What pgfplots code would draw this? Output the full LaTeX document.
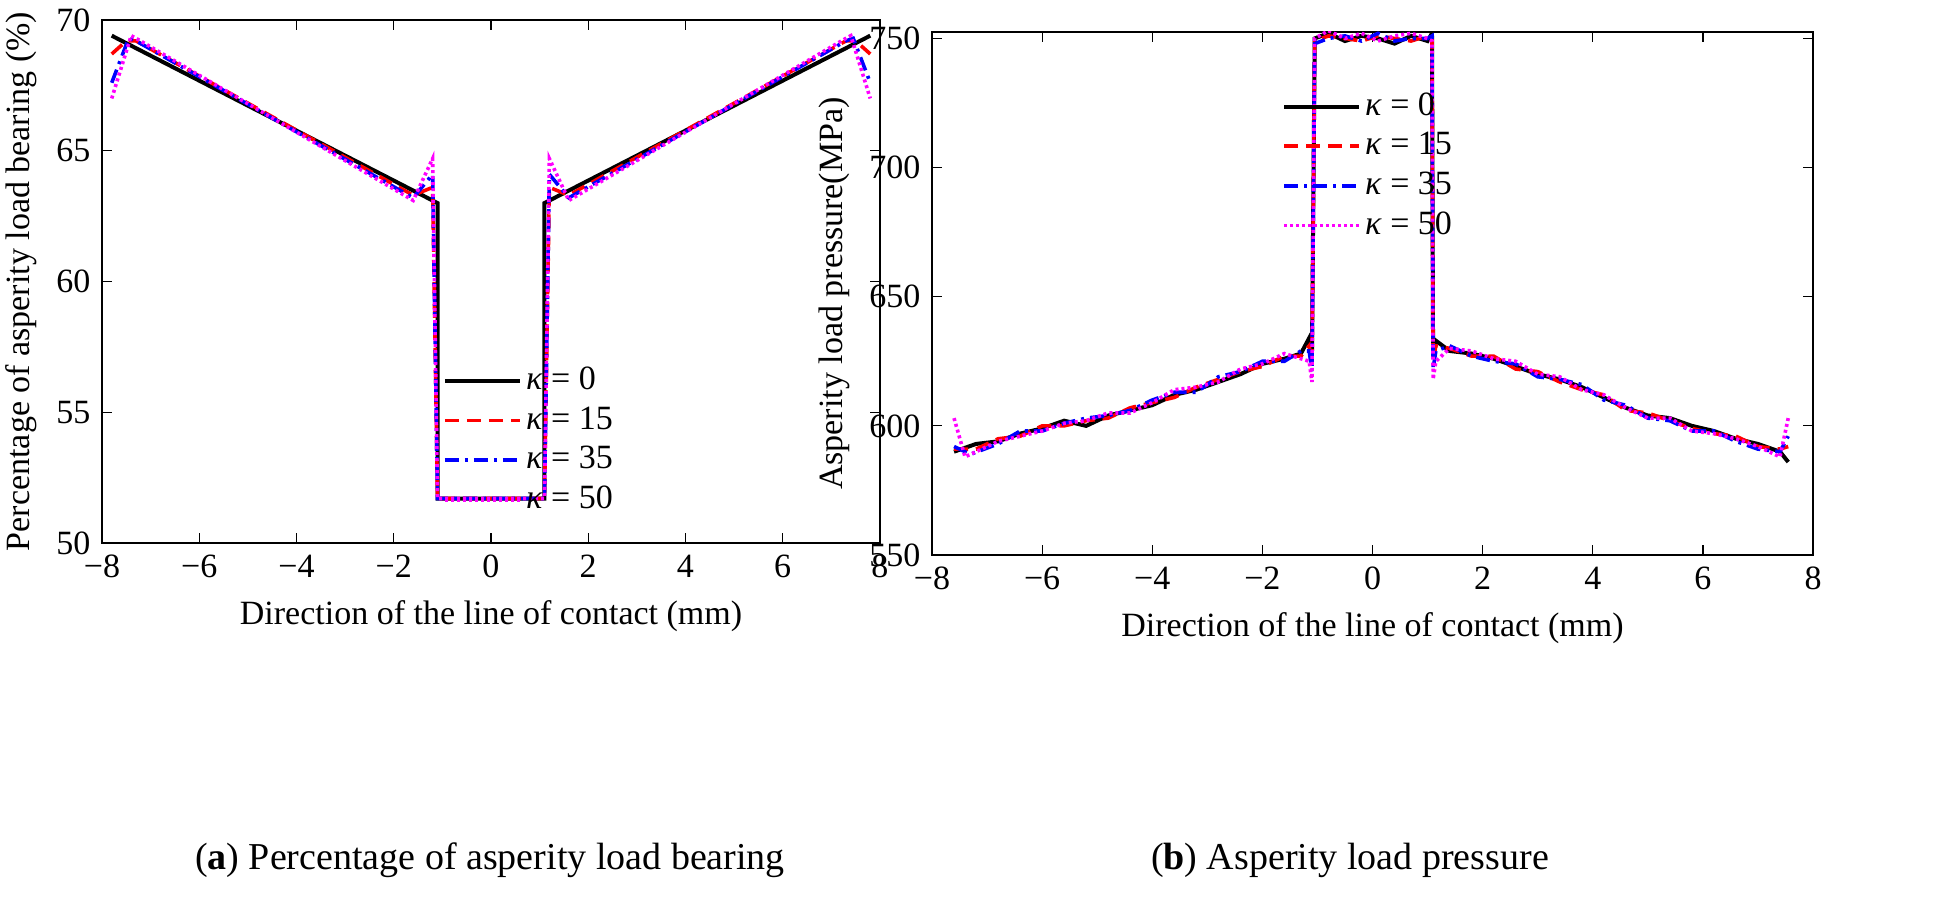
\documentclass[border=0pt]{standalone}
\usepackage{pgfplots}
\pgfplotsset{compat=1.18}
\usepackage{fontspec}
\setmainfont{Liberation Serif}
\definecolor{mag}{RGB}{255,0,255}
\begin{document}
\fontsize{17pt}{20pt}\selectfont
\begin{tikzpicture}
\useasboundingbox (0,0) rectangle (973.5pt,450.5pt);
\pgfplotsset{every axis/.append style={scale only axis, axis line style={line width=0.8pt},
 tick style={line width=0.6pt,black}, tick align=inside, major tick length=5pt,
 /pgf/number format/assume math mode=true, tick label style={font=\fontsize{17pt}{20pt}\selectfont},
 label style={font=\fontsize{17pt}{20pt}\selectfont}, xmin=-8,xmax=8, xtick={-8,-6,...,8},
 legend style={draw=none,fill=none,font=\fontsize{17pt}{20pt}\selectfont, row sep=2pt},
 legend cell align=left, legend image post style={xscale=2.2},
 xlabel={Direction of the line of contact (mm)},
 xticklabels={−8,−6,−4,−2,0,2,4,6,8}}}
\tikzset{dsh/.style={dash pattern=on 7pt off 4pt}, ddot/.style={dash pattern=on 7pt off 3pt on 1.5pt off 3pt}, dtt/.style={dash pattern=on 1.5pt off 1.5pt}}
\begin{axis}[at={(51pt,179pt)}, anchor=south west, width=389pt, height=261.5pt,
 ymin=50, ymax=70, ytick={50,55,...,70}, yticklabels={50,55,60,65,70},
 ylabel={Percentage of asperity load bearing (\%)}, ylabel style={yshift=-2pt},
 legend style={at={(0.43,0.04)},anchor=south west}]
\addplot[black, line width=2pt] coordinates {(-7.8,69.4)(-1.1,63)(-1.1,51.7)(1.1,51.7)(1.1,63)(7.8,69.4)};
\addplot[red, dsh, line width=1.8pt] coordinates {(-7.8,68.7)(-7.5,69.2)(-7.3,69.2)(-1.6,63.3)(-1.2,63.6)(-1.1,51.7)(1.1,51.7)(1.2,63.6)(1.6,63.3)(7.3,69.2)(7.5,69.2)(7.8,68.7)};
\addplot[blue, ddot, line width=1.8pt] coordinates {(-7.8,67.6)(-7.45,69.3)(-7.3,69.2)(-1.6,63.2)(-1.2,64.1)(-1.1,51.7)(1.1,51.7)(1.2,64.1)(1.6,63.2)(7.3,69.2)(7.45,69.3)(7.8,67.6)};
\addplot[mag, dtt, line width=1.8pt] coordinates {(-7.8,67)(-7.4,69.4)(-7.3,69.3)(-1.6,63.1)(-1.2,64.7)(-1.1,51.7)(1.1,51.7)(1.2,64.7)(1.6,63.1)(7.3,69.3)(7.4,69.4)(7.8,67)};
\legend{\textit{κ} = 0,\textit{κ} = 15,\textit{κ} = 35,\textit{κ} = 50}
\end{axis}
\begin{axis}[at={(466pt,173pt)}, anchor=south west, width=440.5pt, height=261.5pt,
 ymin=550, ymax=752.5, ytick={550,600,...,750}, yticklabels={550,600,650,700,750},
 ylabel={Asperity load pressure(MPa)}, ylabel style={yshift=-2pt},
 legend style={at={(0.39,0.9)},anchor=north west}]
\addplot[black, line width=2pt] coordinates {(-7.6,590)(-7.2,593)(-6.8,594)(-6.4,597)(-6,599)(-5.6,602)(-5.2,600)(-4.8,604)(-4.4,606)(-4,608)(-3.6,612)(-3.2,614)(-2.8,617)(-2.4,620)(-2,624)(-1.6,626)(-1.3,628)(-1.15,634)(-1.1,627)(-1.05,750)(-0.8,752)(-0.5,749)(-0.2,751)(0.1,750)(0.4,748)(0.7,751)(1.0,749)(1.08,752)(1.1,627)(1.15,633)(1.4,629)(1.8,628)(2.2,626)(2.6,623)(3,620)(3.4,618)(3.8,615)(4.2,611)(4.6,607)(5,604)(5.4,603)(5.8,600)(6.2,598)(6.6,595)(7,593)(7.4,590)(7.55,586)};
\addplot[red, dsh, line width=1.8pt] coordinates {(-7.6,591)(-7.2,591)(-6.8,595)(-6.4,596)(-6,600)(-5.6,600)(-5.2,602)(-4.8,603)(-4.4,607)(-4,609)(-3.6,611)(-3.2,615)(-2.8,618)(-2.4,621)(-2,623)(-1.6,627)(-1.3,627)(-1.15,631)(-1.1,624)(-1.05,749)(-0.8,751)(-0.5,750)(-0.2,749)(0.1,751)(0.4,750)(0.7,749)(1.0,751)(1.08,750)(1.1,625)(1.15,631)(1.4,630)(1.8,627)(2.2,627)(2.6,622)(3,621)(3.4,617)(3.8,614)(4.2,612)(4.6,606)(5,605)(5.4,602)(5.8,599)(6.2,597)(6.6,596)(7,592)(7.4,591)(7.55,592)};
\addplot[blue, ddot, line width=1.8pt] coordinates {(-7.6,592)(-7.3,589)(-6.8,593)(-6.4,598)(-6,598)(-5.6,601)(-5.2,603)(-4.8,604)(-4.4,606)(-4,610)(-3.6,613)(-3.2,613)(-2.8,619)(-2.4,621)(-2,625)(-1.6,625)(-1.3,629)(-1.15,629)(-1.1,621)(-1.05,748)(-0.8,750)(-0.5,751)(-0.2,749)(0.1,752)(0.4,749)(0.7,750)(1.0,750)(1.08,751)(1.1,622)(1.15,629)(1.4,631)(1.8,627)(2.2,625)(2.6,624)(3,619)(3.4,618)(3.8,616)(4.2,610)(4.6,608)(5,603)(5.4,602)(5.8,598)(6.2,598)(6.6,594)(7,591)(7.4,590)(7.55,596)};
\addplot[mag, dtt, line width=1.8pt] coordinates {(-7.6,603)(-7.4,588)(-6.8,594)(-6.4,596)(-6,598)(-5.6,601)(-5.2,602)(-4.8,605)(-4.4,605)(-4,609)(-3.6,614)(-3.2,615)(-2.8,617)(-2.4,622)(-2,624)(-1.6,628)(-1.3,626)(-1.15,625)(-1.1,617)(-1.05,750)(-0.8,753)(-0.5,750)(-0.2,752)(0.1,749)(0.4,751)(0.7,752)(1.0,750)(1.08,749)(1.1,618)(1.15,625)(1.4,630)(1.8,629)(2.2,626)(2.6,625)(3,620)(3.4,619)(3.8,614)(4.2,612)(4.6,607)(5,603)(5.4,603)(5.8,598)(6.2,597)(6.6,595)(7,592)(7.4,588)(7.55,603)};
\legend{\textit{κ} = 0,\textit{κ} = 15,\textit{κ} = 35,\textit{κ} = 50}
\end{axis}
\node[font=\fontsize{19pt}{22pt}\selectfont] at (245pt,20.5pt) {(\textbf{a}) Percentage of asperity load bearing};
\node[font=\fontsize{19pt}{22pt}\selectfont] at (675pt,20.5pt) {(\textbf{b}) Asperity load pressure};
\end{tikzpicture}
\end{document}
